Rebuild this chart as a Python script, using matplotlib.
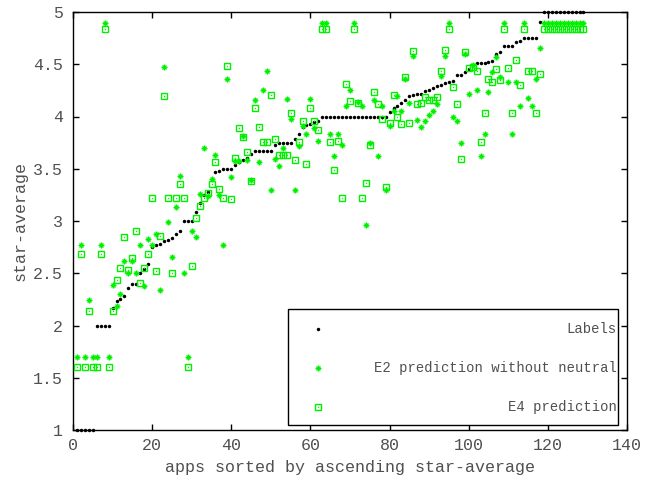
import matplotlib
matplotlib.use("Agg")
import matplotlib.pyplot as plt
from matplotlib.patches import Rectangle
from matplotlib.ticker import FuncFormatter

# apps 1..129, sorted by their true star-average
labels = [
    1.00, 1.00, 1.00, 1.00, 1.00,                               # 1-5
    2.00, 2.00, 2.00, 2.00,                                     # 6-9
    2.17, 2.23, 2.25, 2.28, 2.36, 2.40, 2.40, 2.50, 2.54, 2.59,  # 10-19
    2.75, 2.77, 2.78, 2.81, 2.82, 2.84, 2.88, 2.90, 3.00, 3.00,  # 20-29
    3.00, 3.09, 3.17, 3.25, 3.28, 3.40, 3.47, 3.48, 3.50, 3.50,  # 30-39
    3.50, 3.54, 3.56, 3.58, 3.60, 3.64, 3.67, 3.67, 3.67, 3.67,  # 40-49
    3.67, 3.73, 3.75, 3.75, 3.75, 3.75, 3.78, 3.83, 3.90, 3.92,  # 50-59
    3.93, 3.95, 3.96, 4.00, 4.00, 4.00, 4.00, 4.00, 4.00, 4.00,  # 60-69
    4.00, 4.00, 4.00, 4.00, 4.00, 4.00, 4.00, 4.00, 4.00, 4.00,  # 70-79
    4.04, 4.08, 4.10, 4.125, 4.16, 4.20, 4.21, 4.22, 4.22, 4.24,  # 80-89
    4.25, 4.27, 4.29, 4.30, 4.32, 4.33, 4.34, 4.40, 4.40, 4.43,  # 90-99
    4.45, 4.49, 4.51, 4.51, 4.51, 4.52, 4.53, 4.60, 4.62, 4.67,  # 100-109
    4.67, 4.67, 4.71, 4.72, 4.75, 4.75, 4.75, 4.75, 4.90, 5.00,  # 110-119
    5.00, 5.00, 5.00, 5.00, 5.00, 5.00, 5.00, 5.00, 5.00, 5.00,  # 120-129
]

e2_pred = [
    1.70, 2.77, 1.70, 2.24, 1.70, 1.70, 2.77, 4.89, 1.70, 2.39,  # 1-10
    2.19, 2.30, 2.62, 2.50, 2.62, 2.50, 2.77, 2.38, 2.83, 2.77,  # 11-20
    2.88, 2.34, 4.47, 2.99, 2.66, 3.13, 3.43, 2.50, 1.70, 2.90,  # 21-30
    2.85, 3.26, 3.70, 3.24, 3.40, 3.63, 3.25, 2.77, 4.36, 3.42,  # 31-40
    3.57, 3.57, 3.81, 3.58, 3.39, 4.16, 3.56, 4.25, 4.44, 3.30,  # 41-50
    3.59, 3.53, 3.70, 4.17, 3.98, 3.30, 3.72, 3.91, 3.83, 4.17,  # 51-60
    3.89, 3.77, 4.89, 4.89, 3.83, 3.62, 3.83, 3.73, 4.10, 4.25,  # 61-70
    4.89, 4.14, 4.10, 2.96, 3.75, 4.16, 3.62, 4.10, 3.30, 3.91,  # 71-80
    4.05, 4.20, 4.05, 4.36, 4.13, 4.58, 3.97, 3.90, 3.96, 4.01,  # 81-90
    4.05, 4.12, 4.39, 4.58, 4.89, 4.00, 3.96, 3.75, 4.60, 4.22,  # 91-100
    4.49, 4.25, 3.62, 3.83, 4.23, 4.43, 4.57, 4.38, 4.89, 4.33,  # 101-110
    3.83, 4.33, 4.10, 4.89, 4.18, 4.10, 4.36, 4.66, 4.89, 4.89,  # 111-120
    4.89, 4.89, 4.89, 4.89, 4.89, 4.89, 4.89, 4.89, 4.89,        # 121-129
]

e4_pred = [
    1.60, 2.68, 1.60, 2.14, 1.60, 1.60, 2.68, 4.84, 1.60, 2.14,  # 1-10
    2.44, 2.55, 2.85, 2.53, 2.65, 2.90, 2.41, 2.55, 2.68, 3.22,  # 11-20
    2.52, 2.86, 4.20, 3.22, 2.50, 3.22, 3.35, 3.22, 1.60, 2.57,  # 21-30
    3.03, 3.14, 3.22, 3.27, 3.35, 3.56, 3.31, 3.22, 4.48, 3.21,  # 31-40
    3.60, 3.89, 3.80, 3.66, 3.38, 4.08, 3.90, 3.76, 3.76, 4.21,  # 41-50
    3.78, 3.63, 3.63, 3.63, 4.03, 3.58, 3.76, 3.96, 3.55, 4.08,  # 51-60
    3.96, 3.87, 4.84, 4.84, 3.76, 3.49, 3.77, 3.22, 4.31, 4.15,  # 61-70
    4.84, 4.13, 3.22, 3.36, 3.73, 4.23, 4.12, 3.98, 3.33, 3.94,  # 71-80
    4.21, 4.00, 3.93, 4.38, 3.94, 4.63, 4.12, 4.13, 4.19, 4.16,  # 81-90
    4.16, 4.19, 4.44, 4.64, 4.84, 4.28, 4.12, 3.59, 4.62, 4.46,  # 91-100
    4.47, 4.44, 3.76, 4.03, 4.36, 4.33, 4.45, 4.35, 4.84, 4.46,  # 101-110
    4.03, 4.54, 4.30, 4.84, 4.44, 4.44, 4.03, 4.41, 4.84, 4.84,  # 111-120
    4.84, 4.84, 4.84, 4.84, 4.84, 4.84, 4.84, 4.84, 4.84,        # 121-129
]

apps = list(range(1, len(labels) + 1))

legend_names = ["Labels", "E2 prediction without neutral", "E4 prediction"]
x_ticks = [0, 20, 40, 60, 80, 100, 120, 140]
y_ticks = [1, 1.5, 2, 2.5, 3, 3.5, 4, 4.5, 5]

GREEN = "#00f000"
TEXT = "#505050"
plt.rcParams["font.family"] = ["Liberation Mono", "DejaVu Sans Mono"]

fig = plt.figure(figsize=(6.56, 4.83), dpi=100)
ax = fig.add_axes([73 / 656, 53 / 483, 554 / 656, 418 / 483])


def draw_labels(a, xs, ys, **kw):
    a.plot(xs, ys, linestyle="none", marker="o", ms=2.5, mfc="black",
           mec="black", mew=0, **kw)


def draw_e2(a, xs, ys, **kw):
    a.plot(xs, ys, linestyle="none", marker="+", ms=4.2, mec=GREEN, mew=1.0, **kw)
    a.plot(xs, ys, linestyle="none", marker="x", ms=3.0, mec=GREEN, mew=1.0, **kw)


def draw_e4(a, xs, ys, **kw):
    a.plot(xs, ys, linestyle="none", marker="s", ms=5.0, mfc="none",
           mec=GREEN, mew=1.0, **kw)
    a.plot(xs, ys, linestyle="none", marker="s", ms=0.9, mfc=GREEN,
           mec=GREEN, mew=0, **kw)


draw_labels(ax, apps, labels, clip_on=False, zorder=3)
draw_e2(ax, apps, e2_pred, clip_on=False, zorder=4)
draw_e4(ax, apps, e4_pred, clip_on=False, zorder=5)

ax.set_xlim(0, 140)
ax.set_ylim(1, 5)
ax.set_xticks(x_ticks)
ax.set_yticks(y_ticks)
ax.yaxis.set_major_formatter(FuncFormatter(lambda v, p: "%g" % v))
ax.tick_params(direction="in", length=4.5, width=1.0, top=True, right=True,
               labelsize=12, labelcolor=TEXT, color="black")
ax.tick_params(axis="x", pad=6)
ax.tick_params(axis="y", pad=7)
for s in ax.spines.values():
    s.set_linewidth(1.0)
    s.set_color("black")

ax.set_xlabel("apps sorted by ascending star-average", fontsize=12,
              color=TEXT, labelpad=5)
ax.set_ylabel("star-average", fontsize=12, color=TEXT, labelpad=4)

# key box in the lower right, text right-aligned, symbol on the left
ax.add_patch(Rectangle((0.3886, 0.0112), 0.5957, 0.2776, transform=ax.transAxes,
                       fill=True, facecolor="white", edgecolor="black",
                       linewidth=1.0, zorder=6))
rows_y = [0.2416, 0.1491, 0.0558]
sym_x = 0.4428
drawers = [draw_labels, draw_e2, draw_e4]
for name, yy, fn in zip(legend_names, rows_y, drawers):
    fn(ax, [sym_x], [yy], transform=ax.transAxes, clip_on=False, zorder=7)
    ax.text(0.981, yy, name, transform=ax.transAxes, ha="right", va="center",
            fontsize=10, color=TEXT, zorder=7)

fig.savefig("out.png", dpi=100)
